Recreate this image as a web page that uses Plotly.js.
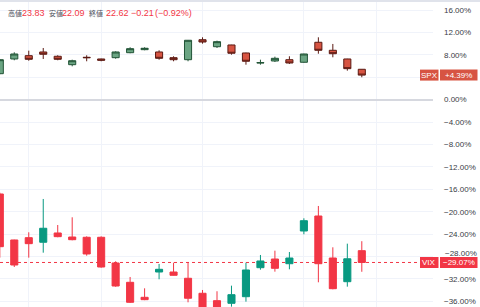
<!DOCTYPE html>
<html>
<head>
<meta charset="utf-8">
<script src="https://cdn.plot.ly/plotly-3.0.1.min.js"></script>
<style>html,body{margin:0;padding:0;background:#fff;}#chart{width:480px;height:307px;}</style>
</head>
<body>
<div id="chart"></div>
<script>
// bar index (daily sessions)
const bars = [0,1,2,3,4,5,6,7,8,9,10,11,12,13,14,15,16,17,18,19,20,21,22,23,24,25];

// SPX, % change from base
const spxOpen  = [4.64,7.27,7.86,8.52,7.75,6.25,7.57,7.27,7.50,8.39,8.93,8.52,7.50,7.14,10.71,9.46,9.77,8.34,6.55,6.91,7.14,6.68,10.25,8.82,7.27,5.43];
const spxHigh  = [7.25,8.46,8.75,9.23,7.93,7.14,7.93,7.32,8.64,9.36,9.36,8.82,7.75,10.66,11.14,10.54,9.80,8.39,7.14,7.68,7.75,8.21,11.14,9.95,7.30,5.45];
const spxLow   = [4.55,7.04,6.96,7.27,7.04,5.96,6.86,6.86,7.32,8.29,8.82,7.14,6.86,6.86,10.00,9.23,8.04,6.25,6.25,6.73,6.38,6.61,8.21,7.57,5.18,4.00];
const spxClose = [7.14,8.16,7.21,8.11,7.21,6.96,7.50,7.04,8.52,9.11,9.18,7.39,7.14,10.61,10.30,10.36,8.29,6.86,6.61,7.39,6.55,8.16,8.82,8.21,5.54,4.39];

// VIX, % change from base
const vixOpen  = [-16.84,-25.05,-24.64,-25.46,-23.80,-24.52,-24.57,-24.57,-29.16,-32.61,-35.29,-30.77,-30.77,-31.89,-34.57,-35.89,-36.36,-35.18,-30.00,-28.45,-29.29,-23.45,-20.77,-28.27,-32.50,-26.96];
const vixHigh  = [-16.60,-25.00,-23.68,-17.73,-22.38,-21.00,-24.40,-24.40,-28.86,-31.66,-33.68,-29.34,-29.11,-28.98,-33.98,-34.21,-33.21,-29.11,-27.73,-26.96,-27.20,-21.18,-18.98,-26.36,-25.71,-25.27];
const vixLow   = [-28.21,-29.88,-28.21,-27.32,-24.57,-25.11,-27.86,-30.00,-33.40,-36.30,-35.80,-32.07,-31.40,-36.18,-37.80,-37.90,-36.96,-36.07,-30.36,-30.71,-30.29,-24.04,-32.61,-33.86,-33.39,-30.73];
const vixClose = [-26.25,-29.52,-25.71,-22.96,-24.46,-25.00,-27.55,-29.88,-33.27,-36.18,-35.71,-30.29,-31.36,-35.46,-37.60,-37.70,-34.82,-30.41,-28.80,-30.11,-28.27,-21.61,-29.29,-33.75,-28.41,-29.07];

// axis ticks ("4.00%" sits hidden under the SPX price tag; "−28.00%" is nudged above the VIX tag)
const tickVals = [16,12,8,4,0,-4,-8,-12,-16,-20,-24,-28,-32,-36];
const tickText = ["16.00%","12.00%","8.00%","","0.00%","\u22124.00%","\u22128.00%","\u221212.00%","\u221216.00%","\u221220.00%","\u221224.00%","","\u221232.00%","\u221236.00%"];
const nudgedTick = {v: -28, t: "\u221228.00%"};
const vGrid = [2,7,14,21,26];

const header = [
  {t:"高値", x:6, c:"#4a4d57", cjk:true},
  {t:"23.83", x:20, c:"#f23645"},
  {t:"安値", x:46.5, c:"#4a4d57", cjk:true},
  {t:"22.09", x:60, c:"#f23645"},
  {t:"終値", x:87, c:"#4a4d57", cjk:true},
  {t:"22.62", x:104, c:"#f23645"},
  {t:"\u22120.21", x:129, c:"#f23645"},
  {t:"(\u22120.92%)", x:152.5, c:"#f23645"}
];

const W = 480, H = 307, R = 47;
const PW = W - R;
const px = x => x / PW;
const py = y => 1 - y / H;

const spx = {
  type: 'candlestick', x: bars, open: spxOpen, high: spxHigh, low: spxLow, close: spxClose,
  increasing: {fillcolor: '#6ba583', line: {color: '#225437', width: 1}},
  decreasing: {fillcolor: '#d75442', line: {color: '#5b1a13', width: 1}},
  whiskerwidth: 0, hoverinfo: 'skip', showlegend: false
};
const vix = {
  type: 'candlestick', x: bars, open: vixOpen, high: vixHigh, low: vixLow, close: vixClose,
  increasing: {fillcolor: '#089981', line: {color: '#089981', width: 1}},
  decreasing: {fillcolor: '#f23645', line: {color: '#f23645', width: 1}},
  whiskerwidth: 0, hoverinfo: 'skip', showlegend: false
};

const FONT = 'Liberation Sans, Arial, sans-serif';
const annotations = header.map(h => ({
  xref: 'paper', yref: 'paper', x: px(h.x), y: py(13), xanchor: 'left', yanchor: 'middle',
  text: h.t, showarrow: false,
  font: {family: h.cjk ? 'Noto Sans CJK JP, sans-serif' : FONT, size: h.cjk ? 7 : 9, color: h.c}
}));

const lastSpx = spxClose[spxClose.length-1];
const lastVix = vixClose[vixClose.length-1];
function fmtPct(v){ return (v >= 0 ? '+' : '\u2212') + Math.abs(v).toFixed(2) + '%'; }

const yRange = [-37.02, 17.80];
const yToPx = v => H * (yRange[1] - v) / (yRange[1] - yRange[0]);

annotations.push({xref:'paper', yref:'paper', x:px(443), y:py(yToPx(nudgedTick.v) - 3), xanchor:'left', yanchor:'middle',
  text:nudgedTick.t, showarrow:false, font:{family:FONT, size:8, color:'#3a3d46'}});

const shapes = [
  {type:'rect', xref:'paper', yref:'paper', x0:0, x1:W/PW, y0:py(0), y1:py(2), fillcolor:'#e0e3eb', line:{width:0}},
  {type:'line', xref:'paper', yref:'y', x0:0, x1:1, y0:lastVix, y1:lastVix, line:{color:'#f23645', width:1, dash:'dot'}, layer:'below'}
];
function labelBox(name, val, color){
  const yc = yToPx(val);
  shapes.push({type:'rect', xref:'paper', yref:'paper', x0:px(420), x1:px(438.5), y0:py(yc-5.5), y1:py(yc+5.5), fillcolor:color, line:{width:0}});
  shapes.push({type:'rect', xref:'paper', yref:'paper', x0:px(440), x1:px(477.5), y0:py(yc-5.5), y1:py(yc+5.5), fillcolor:color, line:{width:0}});
  annotations.push({xref:'paper', yref:'paper', x:px(429.2), y:py(yc), xanchor:'center', yanchor:'middle', text:name, showarrow:false, font:{family:FONT, size:8, color:'#ffffff'}});
  annotations.push({xref:'paper', yref:'paper', x:px(458.7), y:py(yc), xanchor:'center', yanchor:'middle', text:fmtPct(val), showarrow:false, font:{family:FONT, size:8, color:'#ffffff'}});
}
labelBox('SPX', lastSpx, '#d75442');
labelBox('VIX', lastVix, '#f23645');

const layout = {
  width: W, height: H,
  margin: {l: 0, r: R, t: 0, b: 0},
  paper_bgcolor: '#ffffff', plot_bgcolor: '#ffffff',
  showlegend: false,
  xaxis: {
    type: 'linear', range: [0.014, 0.014 + PW/14.48],
    rangeslider: {visible: false},
    tickmode: 'array', tickvals: vGrid, showticklabels: false, ticks: '',
    showgrid: true, gridcolor: '#f0f3fa', gridwidth: 1, zeroline: false, showline: false, fixedrange: true
  },
  yaxis: {
    side: 'right', range: yRange,
    tickmode: 'array', tickvals: tickVals, ticktext: tickText,
    showgrid: true, gridcolor: '#f0f3fa', gridwidth: 1,
    zeroline: true, zerolinecolor: '#d6d8df', zerolinewidth: 2,
    ticks: '', ticklabelstandoff: 10,
    tickfont: {family: FONT, size: 8, color: '#3a3d46'},
    showline: false, fixedrange: true
  },
  shapes: shapes,
  annotations: annotations
};

Plotly.newPlot('chart', [spx, vix], layout, {staticPlot: true, displayModeBar: false});
</script>
</body>
</html>
